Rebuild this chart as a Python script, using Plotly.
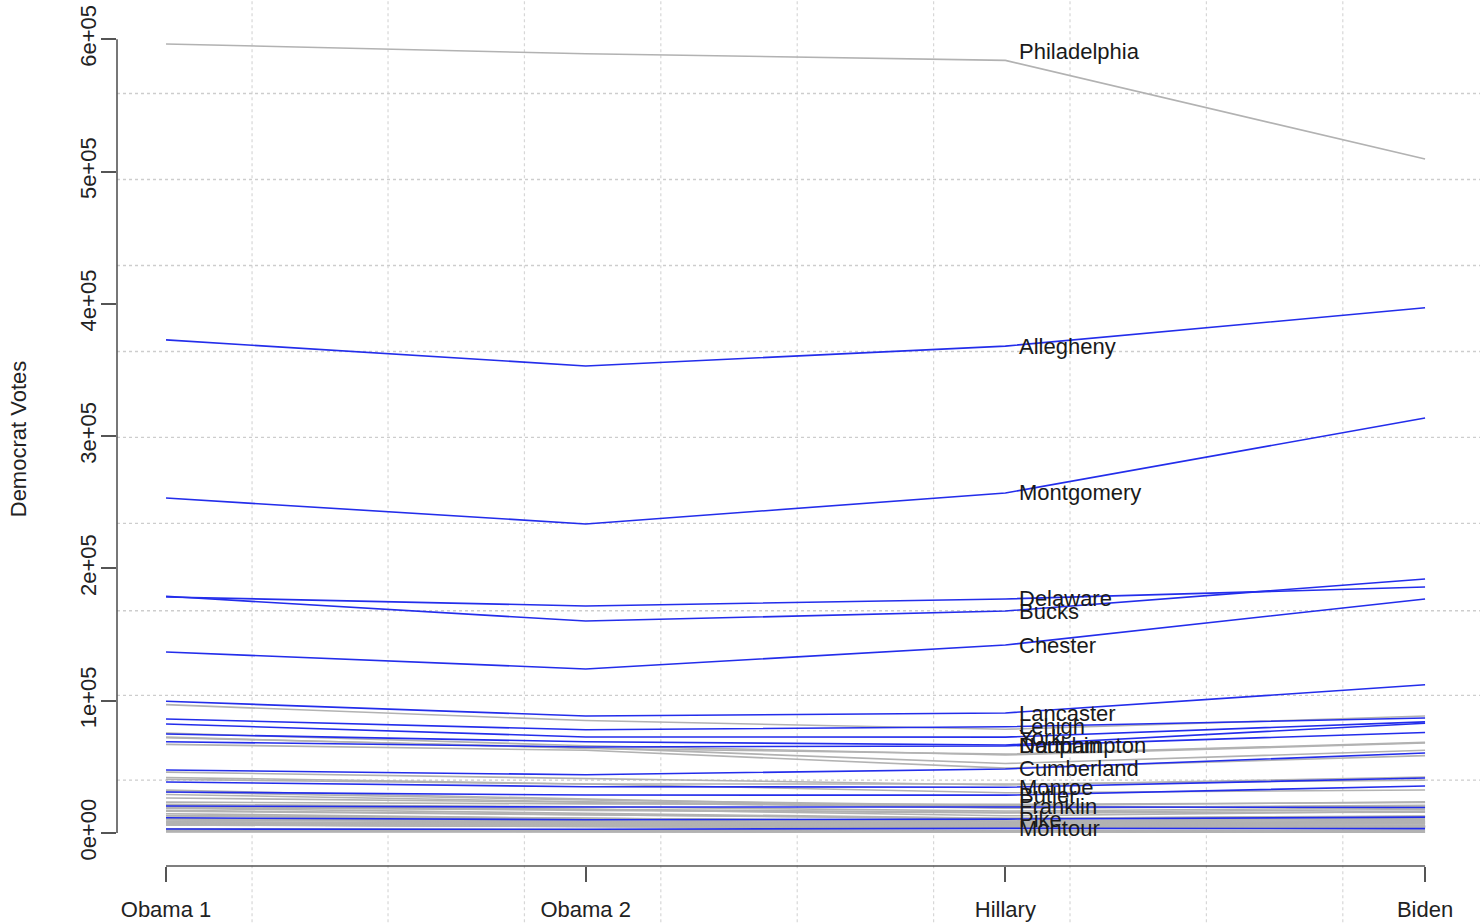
import plotly.graph_objects as go

# ---------------- data ----------------
categories = ["Obama 1", "Obama 2", "Hillary", "Biden"]

counties = [
    "Adams", "Allegheny", "Armstrong", "Beaver", "Bedford", "Berks", "Blair", "Bradford",
    "Bucks", "Butler", "Cambria", "Cameron", "Carbon", "Centre", "Chester", "Clarion",
    "Clearfield", "Clinton", "Columbia", "Crawford", "Cumberland", "Dauphin", "Delaware",
    "Elk", "Erie", "Fayette", "Forest", "Franklin", "Fulton", "Greene", "Huntingdon",
    "Indiana", "Jefferson", "Juniata", "Lackawanna", "Lancaster", "Lawrence", "Lebanon",
    "Lehigh", "Luzerne", "Lycoming", "McKean", "Mercer", "Mifflin", "Monroe", "Montgomery",
    "Montour", "Northampton", "Northumberland", "Perry", "Philadelphia", "Pike", "Potter",
    "Schuylkill", "Snyder", "Somerset", "Sullivan", "Susquehanna", "Tioga", "Union",
    "Venango", "Warren", "Washington", "Wayne", "Westmoreland", "Wyoming", "York",
]

obama1 = [
    18900, 372700, 11100, 40500, 6100, 97000, 21600, 10300,
    178900, 31000, 32400, 1000, 13000, 42000, 136800, 6800,
    14600, 7900, 13200, 18700, 47600, 69000, 178400,
    7300, 75500, 29100, 1000, 20400, 1900, 7800, 7100,
    17100, 6400, 3100, 67000, 99600, 19700, 23300,
    86200, 72000, 20600, 7200, 26500, 6600, 38500, 253200,
    3000, 74800, 16500, 8200, 596400, 11500, 2300,
    31000, 6000, 13000, 1200, 8400, 6400, 8100,
    10000, 8500, 46000, 9900, 72500, 6000, 82400,
]

obama2 = [
    18000, 353000, 9000, 37000, 5100, 85000, 19800, 8900,
    160200, 28700, 25400, 830, 10800, 37000, 124000, 5300,
    11100, 6700, 11000, 14700, 44000, 65000, 171600,
    5500, 66000, 23600, 900, 19600, 1500, 5900, 6100,
    14000, 5100, 2700, 62500, 88400, 17100, 22000,
    78000, 64500, 18000, 5900, 23200, 5600, 35000, 233600,
    2800, 69000, 13700, 7600, 589000, 10000, 1900,
    25000, 5800, 10500, 1000, 7000, 5400, 7300,
    8000, 7000, 41000, 8300, 64000, 5000, 72600,
]

hillary = [
    15600, 368000, 7200, 30400, 3600, 78400, 16600, 6100,
    167800, 28600, 18900, 500, 9100, 37000, 142100, 4100,
    8200, 5200, 9000, 11100, 48400, 65800, 176900,
    4000, 59000, 20000, 730, 19700, 1200, 4500, 4500,
    10700, 3700, 1800, 49000, 90700, 15200, 21600,
    80300, 52500, 13000, 4000, 18700, 4000, 34600, 257000,
    3500, 66500, 11100, 6400, 584000, 10500, 1300,
    20700, 4900, 7400, 770, 5100, 4000, 7100,
    6200, 5000, 36300, 6900, 59600, 4100, 72500,
]

biden = [
    17800, 397000, 8400, 32500, 4300, 88400, 19000, 7300,
    192000, 35500, 21000, 630, 11000, 40000, 176900, 4600,
    9600, 5500, 10400, 12800, 60500, 76000, 185900,
    4500, 68000, 19800, 720, 19300, 1100, 4900, 5400,
    12500, 4500, 2200, 58500, 112000, 15800, 23000,
    86900, 62500, 16500, 4500, 20500, 4500, 41600, 313700,
    3300, 83000, 12500, 7200, 509400, 12000, 1700,
    23500, 5400, 8500, 900, 6100, 4900, 7900,
    7500, 5800, 42300, 9000, 68500, 4600, 84000,
]

# counties drawn in blue (the others are grey)
blue_counties = [
    "Allegheny", "Montgomery", "Delaware", "Bucks", "Chester", "Lancaster", "Lehigh",
    "York", "Northampton", "Dauphin", "Cumberland", "Monroe", "Butler", "Franklin",
    "Pike", "Montour",
]
# labelled counties (label placed at the Hillary value)
labelled = ["Philadelphia"] + blue_counties
label_offset = {"Philadelphia": 6400}  # label drawn slightly above the line

y_ticks = [0, 100000, 200000, 300000, 400000, 500000, 600000]
y_tick_text = ["0e+00", "1e+05", "2e+05", "3e+05", "4e+05", "5e+05", "6e+05"]

# ---------------- figure ----------------
FONT = "Liberation Sans, Arial, Helvetica, sans-serif"
BLUE = "rgb(35,45,235)"
GREY = "rgb(178,178,178)"

xs = list(range(len(categories)))
fig = go.Figure()

rows = list(zip(counties, obama1, obama2, hillary, biden))
# grey first, blue on top
for want_blue in (False, True):
    for name, a, b, c, d in rows:
        is_blue = name in blue_counties
        if is_blue != want_blue:
            continue
        fig.add_trace(go.Scatter(
            x=xs, y=[a, b, c, d], mode="lines", name=name,
            line=dict(color=BLUE if is_blue else GREY, width=1.6),
            showlegend=False, hoverinfo="name+y",
        ))

# county labels at the Hillary position
for name, a, b, c, d in rows:
    if name in labelled:
        fig.add_annotation(
            x=2, y=c + label_offset.get(name, 0), xref="x", yref="y",
            text=name, showarrow=False, xanchor="left", yanchor="middle",
            xshift=12, font=dict(family=FONT, size=22, color="#1a1a1a"),
        )

# dotted background grid (as in the reference)
grid_x = [0.205, 0.529, 0.854, 1.179, 1.504, 1.829, 2.154, 2.479, 2.804]
grid_y = [559000, 494000, 429000, 364000, 299000, 234000, 168000, 104000, 40000]
for gx in grid_x:
    fig.add_shape(type="line", xref="x", yref="paper", x0=gx, x1=gx, y0=-0.08, y1=1.02,
                  line=dict(color="rgb(215,215,215)", width=1.2, dash="dot"), layer="below")
for gy in grid_y:
    fig.add_shape(type="line", xref="paper", yref="y", x0=0, x1=1.01, y0=gy, y1=gy,
                  line=dict(color="rgb(205,205,205)", width=1.4, dash="dot"), layer="below")

# R-style axis lines spanning only first..last tick
fig.add_shape(type="line", xref="x", yref="paper", x0=xs[0], x1=xs[-1], y0=0, y1=0,
              line=dict(color="#555", width=1.6))
fig.add_shape(type="line", xref="paper", yref="y", x0=0, x1=0, y0=y_ticks[0], y1=y_ticks[-1],
              line=dict(color="#555", width=1.6))

fig.update_layout(
    width=1480, height=924,
    margin=dict(l=117, r=5, t=12, b=58, autoexpand=False),
    paper_bgcolor="white", plot_bgcolor="white",
    font=dict(family=FONT, size=22, color="#222"),
    xaxis=dict(
        range=[-0.1168, 3.119], tickmode="array", tickvals=xs, ticktext=categories,
        showgrid=False, zeroline=False, showline=False, automargin=False,
        ticks="outside", ticklen=15, tickwidth=1.5, tickcolor="#555",
        tickfont=dict(family=FONT, size=22, color="#222"), ticklabelstandoff=9,
        ticklabeloverflow="allow",
    ),
    yaxis=dict(
        range=[-24943, 620560], tickmode="array", tickvals=y_ticks, ticktext=y_tick_text,
        showgrid=False, zeroline=False, showline=False, automargin=False,
        ticks="outside", ticklen=15, tickwidth=1.5, tickcolor="#555", tickangle=-90,
        tickfont=dict(family=FONT, size=22, color="#222"), ticklabelstandoff=-4,
        ticklabeloverflow="allow",
        title=dict(text="Democrat Votes", standoff=43,
                   font=dict(family=FONT, size=22, color="#222")),
    ),
)

# remove the default 8px page margin so the figure fills the window exactly
fig.write_html("out.html", config={"displayModeBar": False},
               post_script="document.body.style.margin='0';document.body.style.overflow='hidden';")
